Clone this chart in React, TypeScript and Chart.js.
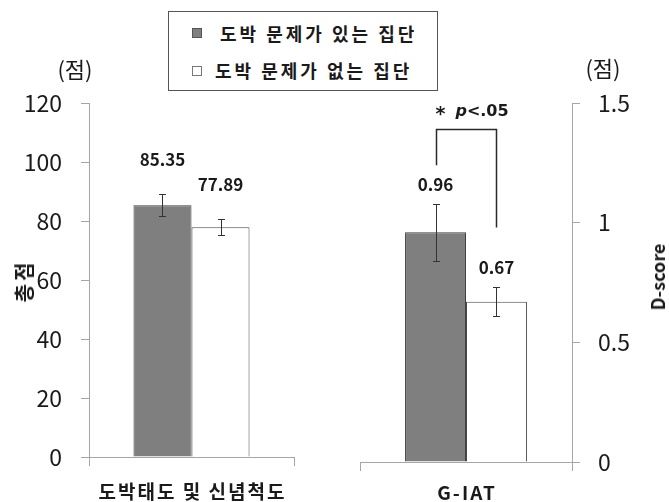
import React, { useEffect, useRef } from 'react';
import { Chart, registerables } from 'chart.js';

Chart.register(...registerables);

const FONT = "'Noto Sans CJK KR', 'Noto Sans', sans-serif";

// ---- data ----
const seriesNames = ['도박 문제가 있는 집단', '도박 문제가 없는 집단'];
const seriesFill = ['#7f7f7f', '#ffffff'];
const seriesBorder = ['#3f3f3f', '#4a4a4a'];

const attitudeCategories = ['도박태도 및 신념척도'];
const attitudeProblem = [85.35];
const attitudeNoProblem = [77.89];
const attitudeProblemErr = [3.7];
const attitudeNoProblemErr = [2.7];
const attitudeTicks = [0, 20, 40, 60, 80, 100, 120];

const iatCategories = ['G-IAT'];
const iatProblem = [0.96];
const iatNoProblem = [0.67];
const iatProblemErr = [0.12];
const iatNoProblemErr = [0.06];
const iatTicks = [0, 0.5, 1, 1.5];

// significance bracket in D-score units: [left leg end, top, right leg end]
const bracketLevels = [1.24, 1.39, 0.98];
const sigTextLevel = [1.462];
const sigText = ['*', 'p', '<.05'];

const unitLabel = '(점)';
const leftAxisTitle = '총점';
const rightAxisTitle = 'D-score';

const AXIS_GRAY = '#a6a6a6';
const TEXT = '#1a1a1a';

function makePlugin(labelGap: number, catOffset: number, withBracket: boolean) {
  return {
    id: 'annot',
    afterDatasetsDraw(chart: any) {
      const { ctx } = chart;
      const ys = chart.scales.y;
      ctx.save();
      chart.data.datasets.forEach((ds: any, di: number) => {
        const meta = chart.getDatasetMeta(di);
        meta.data.forEach((bar: any, i: number) => {
          const v = ds.data[i];
          const e = ds.errors[i];
          const x = Math.round(bar.x) + 0.5;
          const yt = Math.round(ys.getPixelForValue(v + e)) + 0.5;
          const yb = Math.round(ys.getPixelForValue(v - e)) + 0.5;
          ctx.strokeStyle = '#333';
          ctx.lineWidth = 1;
          ctx.beginPath();
          ctx.moveTo(x, yt);
          ctx.lineTo(x, yb);
          ctx.moveTo(x - 3.5, yt);
          ctx.lineTo(x + 3.5, yt);
          ctx.moveTo(x - 3.5, yb);
          ctx.lineTo(x + 3.5, yb);
          ctx.stroke();
          ctx.fillStyle = TEXT;
          ctx.font = `bold 17px ${FONT}`;
          ctx.textAlign = 'center';
          ctx.textBaseline = 'middle';
          ctx.fillText(v.toFixed(2), bar.x, yt - labelGap);
        });
      });
      if (withBracket) {
        const xa = Math.round(chart.getDatasetMeta(0).data[0].x) + 0.5;
        const xb = Math.round(chart.getDatasetMeta(1).data[0].x) + 0.5;
        const y1 = ys.getPixelForValue(bracketLevels[0]);
        const y2 = Math.round(ys.getPixelForValue(bracketLevels[1])) + 0.5;
        const y3 = ys.getPixelForValue(bracketLevels[2]);
        ctx.strokeStyle = '#2a2a2a';
        ctx.lineWidth = 1.5;
        ctx.beginPath();
        ctx.moveTo(xa, y1);
        ctx.lineTo(xa, y2);
        ctx.lineTo(xb, y2);
        ctx.lineTo(xb, y3);
        ctx.stroke();
        const ty = ys.getPixelForValue(sigTextLevel[0]);
        ctx.fillStyle = TEXT;
        ctx.textAlign = 'left';
        ctx.textBaseline = 'middle';
        ctx.font = `bold 19px 'DejaVu Sans', ${FONT}`;
        const x0 = xa - 1;
        ctx.fillText(sigText[0], x0, ty + 3);
        const xp = x0 + ctx.measureText(sigText[0]).width + 10;
        ctx.font = `italic bold 16px 'DejaVu Sans', ${FONT}`;
        ctx.fillText(sigText[1], xp, ty);
        const xr = xp + ctx.measureText(sigText[1]).width;
        ctx.font = `bold 16px 'DejaVu Sans', ${FONT}`;
        ctx.fillText(sigText[2], xr, ty);
      }
      ctx.restore();
    },
    afterDraw(chart: any) {
      const { ctx } = chart;
      const xs = chart.scales.x;
      ctx.save();
      (ctx as any).letterSpacing = '2px';
      ctx.fillStyle = TEXT;
      ctx.font = `bold 19px ${FONT}`;
      ctx.textAlign = 'center';
      ctx.textBaseline = 'middle';
      chart.data.labels.forEach((lab: string, i: number) => {
        ctx.fillText(lab, xs.getPixelForTick(i) + 1, xs.top + catOffset);
      });
      ctx.restore();
    },
  };
}

function makeConfig(opts: {
  labels: string[];
  a: number[];
  b: number[];
  ea: number[];
  eb: number[];
  ticks: number[];
  pos: 'left' | 'right';
  axisWidth: number;
  xHeight: number;
  padding: any;
  cat: number;
  labelGap: number;
  catOffset: number;
  bracket: boolean;
}) {
  const tickFont = { family: FONT, size: 23, weight: 'normal' as const };
  return {
    type: 'bar' as const,
    data: {
      labels: opts.labels,
      datasets: [
        {
          label: seriesNames[0],
          data: opts.a,
          errors: opts.ea,
          backgroundColor: seriesFill[0],
          borderColor: seriesBorder[0],
          borderWidth: 1,
        },
        {
          label: seriesNames[1],
          data: opts.b,
          errors: opts.eb,
          backgroundColor: seriesFill[1],
          borderColor: seriesBorder[1],
          borderWidth: 1,
        },
      ],
    },
    options: {
      animation: false,
      responsive: false,
      devicePixelRatio: window.devicePixelRatio || 1,
      layout: { padding: opts.padding },
      categoryPercentage: opts.cat,
      barPercentage: 1,
      plugins: {
        legend: { display: false },
        tooltip: { enabled: false },
        title: { display: false },
      },
      scales: {
        x: {
          ticks: { display: false },
          grid: {
            drawOnChartArea: false,
            tickLength: 9,
            color: AXIS_GRAY,
            offset: true,
          },
          border: { color: AXIS_GRAY, width: 1 },
          afterFit: (s: any) => {
            s.height = opts.xHeight;
          },
        },
        y: {
          position: opts.pos,
          min: opts.ticks[0],
          max: opts.ticks[opts.ticks.length - 1],
          afterBuildTicks: (s: any) => {
            s.ticks = opts.ticks.map((v) => ({ value: v }));
          },
          afterFit: (s: any) => {
            s.width = opts.axisWidth;
          },
          ticks: {
            font: tickFont,
            color: TEXT,
            padding: opts.pos === 'left' ? 19 : 18,
            callback: (v: any) => String(v),
          },
          grid: {
            drawOnChartArea: false,
            tickLength: 8,
            color: AXIS_GRAY,
          },
          border: { color: AXIS_GRAY, width: 1 },
        },
      },
    },
    plugins: [makePlugin(opts.labelGap, opts.catOffset, opts.bracket)],
  };
}

export default function App() {
  const leftRef = useRef<HTMLCanvasElement | null>(null);
  const rightRef = useRef<HTMLCanvasElement | null>(null);

  useEffect(() => {
    Chart.defaults.font.family = FONT;
    const c1 = new Chart(
      leftRef.current as HTMLCanvasElement,
      makeConfig({
        labels: attitudeCategories,
        a: attitudeProblem,
        b: attitudeNoProblem,
        ea: attitudeProblemErr,
        eb: attitudeNoProblemErr,
        ticks: attitudeTicks,
        pos: 'left',
        axisWidth: 89,
        xHeight: 45,
        padding: { left: 0, top: 103, right: 36, bottom: 0 },
        cat: 0.566,
        labelGap: 35,
        catOffset: 35,
        bracket: false,
      }) as any
    );
    const c2 = new Chart(
      rightRef.current as HTMLCanvasElement,
      makeConfig({
        labels: iatCategories,
        a: iatProblem,
        b: iatNoProblem,
        ea: iatProblemErr,
        eb: iatNoProblemErr,
        ticks: iatTicks,
        pos: 'right',
        axisWidth: 97,
        xHeight: 40,
        padding: { left: 30, top: 103, right: 0, bottom: 0 },
        cat: 0.575,
        labelGap: 20,
        catOffset: 31,
        bracket: true,
      }) as any
    );
    return () => {
      c1.destroy();
      c2.destroy();
    };
  }, []);

  const textBase: React.CSSProperties = {
    position: 'absolute',
    fontFamily: FONT,
    color: TEXT,
    whiteSpace: 'nowrap',
    lineHeight: 1,
  };

  return (
    <div
      style={{
        position: 'absolute',
        left: 0,
        top: 0,
        width: 669,
        height: 502,
        background: '#fff',
        overflow: 'hidden',
      }}
    >
      <canvas
        ref={leftRef}
        width={330}
        height={502}
        style={{ position: 'absolute', left: 0, top: 0, width: 330, height: 502 }}
      />
      <canvas
        ref={rightRef}
        width={339}
        height={502}
        style={{ position: 'absolute', left: 330, top: 0, width: 339, height: 502 }}
      />
      {/* legend */}
      <div
        style={{
          position: 'absolute',
          left: 168,
          top: 11,
          width: 270,
          height: 80,
          border: '1px solid #555',
          boxSizing: 'border-box',
          background: '#fff',
        }}
      >
        <div
          style={{
            position: 'absolute',
            left: 23,
            top: 16,
            width: 10,
            height: 10,
            boxSizing: 'border-box',
            background: seriesFill[0],
            border: '1px solid #555',
          }}
        />
        <div style={{ ...textBase, left: 51, top: 12, fontSize: 18, fontWeight: 700, letterSpacing: '3px' }}>
          {seriesNames[0]}
        </div>
        <div
          style={{
            position: 'absolute',
            left: 23,
            top: 54,
            width: 10,
            height: 10,
            boxSizing: 'border-box',
            background: seriesFill[1],
            border: '1px solid #777',
          }}
        />
        <div style={{ ...textBase, left: 46, top: 49, fontSize: 18, fontWeight: 700, letterSpacing: '3px' }}>
          {seriesNames[1]}
        </div>
      </div>
      {/* units */}
      <div style={{ ...textBase, left: 75, top: 68, fontSize: 22, transform: 'translate(-50%, -50%)' }}>
        {unitLabel}
      </div>
      <div style={{ ...textBase, left: 603, top: 67, fontSize: 22, transform: 'translate(-50%, -50%)' }}>
        {unitLabel}
      </div>
      {/* axis titles */}
      <div
        style={{
          ...textBase,
          left: 24,
          top: 281,
          fontSize: 20,
          fontWeight: 700,
          letterSpacing: '3px',
          transform: 'translate(-50%, -50%) rotate(-90deg)',
        }}
      >
        {leftAxisTitle}
      </div>
      <div
        style={{
          ...textBase,
          left: 657,
          top: 277,
          fontSize: 18,
          fontWeight: 700,
          transform: 'translate(-50%, -50%) rotate(-90deg)',
        }}
      >
        {rightAxisTitle}
      </div>
    </div>
  );
}
